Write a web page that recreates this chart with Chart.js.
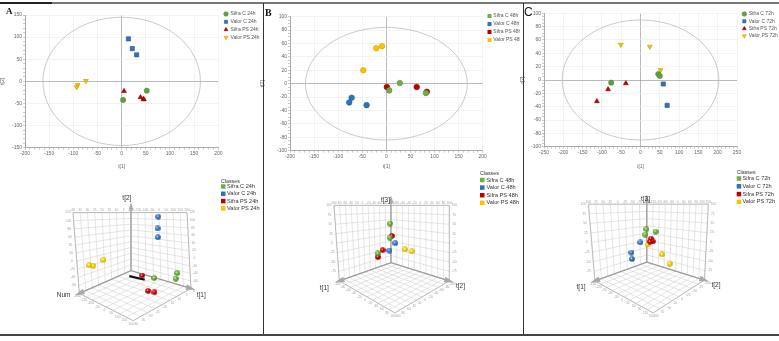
<!DOCTYPE html>
<html>
<head>
<meta charset="utf-8">
<script src="https://cdn.jsdelivr.net/npm/chart.js@4.4.1/dist/chart.umd.min.js"></script>
<style>
body { margin: 0; background: #fff; }
#wrap { position: relative; width: 779px; height: 341px; overflow: hidden; background: #fff; }
canvas { position: absolute; }
.ln { position: absolute; background: #333; z-index: 5; }
.lt { position: absolute; z-index: 6; color: #111; line-height: 1; }
</style>
</head>
<body>
<div id="wrap">
  <canvas id="a2" width="260" height="170" style="left:0;top:0"></canvas>
  <canvas id="b2" width="260" height="170" style="left:260px;top:0"></canvas>
  <canvas id="c2" width="259" height="170" style="left:520px;top:0"></canvas>
  <canvas id="a3" width="262" height="167" style="left:0;top:170px"></canvas>
  <canvas id="b3" width="260" height="167" style="left:260px;top:170px"></canvas>
  <canvas id="c3" width="259" height="167" style="left:520px;top:170px"></canvas>

  <div class="ln" style="left:0;top:2px;width:779px;height:1.5px;background:#777"></div>
  <div class="ln" style="left:0;top:2px;width:52px;height:2px;background:#222"></div>
  <div class="ln" style="left:262.5px;top:3px;width:1.6px;height:332px"></div>
  <div class="ln" style="left:522.5px;top:3px;width:1.6px;height:332px"></div>
  <div class="ln" style="left:0;top:334px;width:779px;height:2px;background:#444"></div>

  <div class="lt" style="left:6px;top:6px;font:bold 9px 'Liberation Serif',serif">A</div>
  <div class="lt" style="left:265px;top:7px;font:bold 10px 'Liberation Serif',serif">B</div>
  <div class="lt" style="left:524px;top:5px;font:12px 'Liberation Sans',sans-serif">C</div>
</div>

<script>
// ---- score plots (t[1], t[2]) ----
const t1_sifraC24 = [52, 3];
const t2_sifraC24 = [-21, -42];
const t1_valorC24 = [14, 22, 31];
const t2_valorC24 = [96, 74, 60];
const t1_sifraPS24 = [5, 39, 45, 46];
const t2_sifraPS24 = [-22, -36, -40, -41];
const t1_valorPS24 = [-74, -91, -93];
const t2_valorPS24 = [1, -8, -13];

const t1_sifraC48 = [28, 6, 82];
const t2_sifraC48 = [1, -10, -14];
const t1_valorC48 = [-72, -77, -41];
const t2_valorC48 = [-21, -28, -32];
const t1_sifraPS48 = [1, 63, 84];
const t2_sifraPS48 = [-5, -5, -12];
const t1_valorPS48 = [-21, -9, -48];
const t2_valorPS48 = [53, 56, 20];

const t1_sifraC72 = [-76, 46, 50];
const t2_sifraC72 = [-4, 9, 6];
const t1_valorC72 = [59, 69];
const t2_valorC72 = [-6, -38];
const t1_sifraPS72 = [-38, -84, -113];
const t2_sifraPS72 = [-5, -14, -32];
const t1_valorPS72 = [-51, 24, 52];
const t2_valorPS72 = [53, 50, 15];

// hotelling ellipse half axes (t1, t2)
const ellA = [163, 145];
const ellB = [168, 84];
const ellC = [203, 90];

// ---- 3D scores ----
// A: [Num, t1, t2]
const sifraC24_3d = [[0.8, 120, -46], [2, 120, -59], [12, 70, -46]];
const valorC24_3d = [[2, 14, 108], [3.6, 22, 75], [4.5, 31, 51]];
const sifraPS24_3d = [[12, -14, -49], [14.8, 52, -76], [14, 88, -76]];
const valorPS24_3d = [[33.4, -74, 9], [39.2, -91, -1], [40, -112, -1]];
const stick24_3d = [[6.1, -158, -80], [4.8, -65, -80]];
// B: [t1, t2, t3]
const sifraC48_3d = [[-40, -46, 47], [-40, -48, 6], [0, -53, -33]];
const valorC48_3d = [[-60, -48, -14], [-40, -50, -32]];
const sifraPS48_3d = [[-50, -50, 9], [-10, -45, -24], [0, -53, -43]];
const valorPS48_3d = [[-70, -24, -30], [-70, -1, -31]];
// C: [t1, t2, t3]
const sifraC72_3d = [[-40, -69, 28], [-40, -75, 12], [-60, -51, 20]];
const valorC72_3d = [[-20, -72, -7], [10, -78, -30], [10, -76, -47]];
const sifraPS72_3d = [[-50, -60, 0], [-50, -51, -7], [-46, -60, -8]];
const valorPS72_3d = [[-40, -63, -15], [-60, -18, -42], [-60, 22, -62]];

const tickFont = { size: 5, family: "'Liberation Sans', sans-serif" };

// ---------- plugins ----------
const ellipsePlugin = {
  id: 'ellipse',
  beforeDatasetsDraw(chart, args, o) {
    if (!o.r) return;
    const { x, y } = chart.scales;
    const ctx = chart.ctx;
    const cx = x.getPixelForValue(0), cy = y.getPixelForValue(0);
    const rx = Math.abs(x.getPixelForValue(o.r[0]) - cx);
    const ry = Math.abs(y.getPixelForValue(o.r[1]) - cy);
    ctx.save();
    ctx.strokeStyle = '#bdbdbd';
    ctx.lineWidth = 0.8;
    ctx.beginPath();
    ctx.ellipse(cx, cy, rx, ry, 0, 0, Math.PI * 2);
    ctx.stroke();
    ctx.restore();
  }
};

const sideLegend = {
  id: 'sideLegend',
  afterDraw(chart, args, o) {
    if (o.x === undefined) return;
    const ctx = chart.ctx;
    ctx.save();
    ctx.textBaseline = 'middle';
    if (o.title) {
      ctx.font = o.titleFont;
      ctx.fillStyle = o.color;
      ctx.fillText(o.title, o.x, o.titleY);
    }
    let i = 0;
    chart.data.datasets.forEach(ds => {
      if (ds.hideInLegend) return;
      const yy = o.y + i * o.gap;
      i++;
      if (o.square) {
        ctx.fillStyle = ds.legendColor || ds.backgroundColor;
        ctx.fillRect(o.x, yy - o.size / 2, o.size, o.size);
      } else {
        ctx.fillStyle = ds.backgroundColor;
        ctx.strokeStyle = ds.borderColor;
        ctx.lineWidth = 0.5;
        Chart.helpers.drawPoint(ctx, { pointStyle: ds.pointStyle, rotation: ds.pointRotation || 0, radius: o.size, borderWidth: 0.5 }, o.x, yy);
      }
      ctx.font = o.font;
      ctx.fillStyle = o.color;
      ctx.fillText(ds.label, o.tx, yy);
    });
    ctx.restore();
  }
};

function gridColor(major) {
  return c => {
    const v = c.tick ? c.tick.value : 1;
    if (v === 0) return '#8c8c8c';
    return Math.abs(v % major) < 1e-6 ? '#ebebeb' : 'rgba(0,0,0,0)';
  };
}

function axis(min, max, major, minor, title, fit) {
  return {
    type: 'linear', min: min, max: max,
    ticks: {
      stepSize: minor, autoSkip: false, maxRotation: 0, padding: 1,
      font: tickFont, color: '#666',
      callback: v => (Math.abs(v % major) < 1e-6 ? v : '')
    },
    grid: { color: gridColor(major), tickColor: '#aaa', tickLength: 2, lineWidth: 0.6 },
    border: { color: '#999', width: 0.8 },
    title: { display: true, text: title, font: tickFont, color: '#666', padding: 0 },
    afterFit: fit
  };
}

function scoreChart(id, sets, o) {
  return new Chart(document.getElementById(id), {
    type: 'scatter',
    data: {
      datasets: sets.map(s => ({
        label: s.label,
        data: s.t1.map((v, i) => ({ x: v, y: s.t2[i] })),
        pointStyle: s.shape,
        pointRotation: s.rot || 0,
        pointRadius: s.r,
        backgroundColor: s.color,
        borderColor: s.edge,
        borderWidth: 0.6
      }))
    },
    options: {
      responsive: false,
      animation: false,
      events: [],
      layout: { padding: { top: o.top, right: o.right, left: 0, bottom: 0 } },
      plugins: {
        legend: { display: false },
        tooltip: { enabled: false },
        ellipse: { r: o.ell },
        sideLegend: o.legend
      },
      scales: {
        x: axis(o.x[0], o.x[1], o.x[2], o.x[3], 't[1]', s => { s.height = o.xh; }),
        y: axis(o.y[0], o.y[1], o.y[2], o.y[3], 't[2]', s => { s.width = o.yw; })
      }
    },
    plugins: [ellipsePlugin, sideLegend]
  });
}

// ---------- 3D helpers ----------
function bil(a, b, c, d, u, v) {
  return a * (1 - u) * (1 - v) + b * u * (1 - v) + c * (1 - u) * v + d * u * v;
}
function place(g, u, v, w) {
  const fx = bil(g.O[0], g.L[0], g.R[0], g.F[0], u, v);
  const fy = bil(g.O[1], g.L[1], g.R[1], g.F[1], u, v);
  const tx = bil(g.tx[0], g.tx[1], g.tx[2], g.tx[3], u, v);
  return [fx + w * (tx - fx), fy + w * (g.top - fy)];
}
function project(g, p) {
  const u = (p[0] - g.ra[0]) / (g.ra[1] - g.ra[0]);
  const v = (p[1] - g.rb[0]) / (g.rb[1] - g.rb[0]);
  const w = (p[2] - g.rc[0]) / (g.rc[1] - g.rc[0]);
  const q = place(g, u, v, w);
  return { x: q[0], y: q[1] };
}
function sphere(col, dark, d) {
  const c = document.createElement('canvas');
  c.width = c.height = d;
  const g = c.getContext('2d');
  const gr = g.createRadialGradient(d * 0.36, d * 0.34, 0.2, d / 2, d / 2, d / 2);
  gr.addColorStop(0, '#ffffff');
  gr.addColorStop(0.3, col);
  gr.addColorStop(1, dark);
  g.fillStyle = gr;
  g.beginPath();
  g.arc(d / 2, d / 2, d / 2 - 0.2, 0, Math.PI * 2);
  g.fill();
  return c;
}

const boxPlugin = {
  id: 'box3d',
  beforeDatasetsDraw(chart, args, o) {
    const g = o.geo;
    if (!g) return;
    const sx = chart.scales.x, sy = chart.scales.y, ctx = chart.ctx;
    const P = (u, v, w) => {
      const q = place(g, u, v, w);
      return [sx.getPixelForValue(q[0]), sy.getPixelForValue(q[1])];
    };
    const seg = (a, b) => {
      const p = P(a[0], a[1], a[2]), q = P(b[0], b[1], b[2]);
      ctx.moveTo(p[0], p[1]);
      ctx.lineTo(q[0], q[1]);
    };
    const [nu, nv, nw] = g.n;
    ctx.save();
    ctx.lineWidth = 0.55;
    ctx.strokeStyle = '#cfcfcf';
    ctx.beginPath();
    for (let i = 0; i <= nu; i++) { seg([i / nu, 0, 0], [i / nu, 0, 1]); seg([i / nu, 0, 0], [i / nu, 1, 0]); }
    for (let j = 0; j <= nv; j++) { seg([0, j / nv, 0], [0, j / nv, 1]); seg([0, j / nv, 0], [1, j / nv, 0]); }
    for (let k = 0; k <= nw; k++) { seg([0, 0, k / nw], [1, 0, k / nw]); seg([0, 0, k / nw], [0, 1, k / nw]); }
    ctx.stroke();

    ctx.strokeStyle = '#a8a8a8';
    ctx.lineWidth = 0.7;
    ctx.beginPath();
    seg([1, 0, 0], [1, 0, 1]); seg([1, 0, 1], [0, 0, 1]); seg([0, 0, 1], [0, 1, 1]);
    seg([0, 1, 1], [0, 1, 0]); seg([1, 0, 0], [1, 1, 0]); seg([0, 1, 0], [1, 1, 0]);
    ctx.stroke();

    // axes with arrow heads
    const O = P(0, 0, 0), L = P(1, 0, 0), R = P(0, 1, 0), T = P(0, 0, 1);
    const head = (from, to, ext, len, hw) => {
      const dx = to[0] - from[0], dy = to[1] - from[1];
      const n = Math.hypot(dx, dy), ux = dx / n, uy = dy / n;
      const tip = [to[0] + ux * ext, to[1] + uy * ext];
      const bx = tip[0] - ux * len, by = tip[1] - uy * len;
      ctx.beginPath();
      ctx.moveTo(tip[0], tip[1]);
      ctx.lineTo(bx - uy * hw, by + ux * hw);
      ctx.lineTo(bx + uy * hw, by - ux * hw);
      ctx.closePath();
      ctx.fill();
    };
    ctx.strokeStyle = '#9d9d9d';
    ctx.fillStyle = '#a9a9a9';
    ctx.lineWidth = 1.3;
    ctx.beginPath();
    ctx.moveTo(L[0], L[1]); ctx.lineTo(O[0], O[1]); ctx.lineTo(R[0], R[1]);
    ctx.moveTo(O[0], O[1]); ctx.lineTo(T[0], T[1] - 6);
    ctx.stroke();
    head(O, [T[0], T[1] - 6], 4, 7, 2.2);
    head(O, L, 5, 10, 2.8);
    head(O, R, 5, 10, 2.8);

    // tiny tick labels
    ctx.fillStyle = '#a0a0a0';
    ctx.font = "3.2px 'Liberation Sans', sans-serif";
    ctx.textAlign = 'center';
    ctx.textBaseline = 'middle';
    const val = (r, t) => Math.round(r[0] + t * (r[1] - r[0]));
    for (let i = 0; i <= nu; i++) {
      let p = P(i / nu, 0, 1); ctx.fillText(val(g.ra, i / nu), p[0], p[1] - 2);
      p = P(i / nu, 1, 0); ctx.fillText(val(g.ra, i / nu), p[0] + 3, p[1] + 3);
    }
    for (let j = 0; j <= nv; j++) {
      let p = P(0, j / nv, 1); ctx.fillText(val(g.rb, j / nv), p[0], p[1] - 2);
      p = P(1, j / nv, 0); ctx.fillText(val(g.rb, j / nv), p[0] - 2, p[1] + 3);
    }
    for (let k = 1; k <= nw; k++) {
      let p = P(1, 0, k / nw); ctx.fillText(val(g.rc, k / nw), p[0] - 5, p[1]);
      p = P(0, 1, k / nw); ctx.fillText(val(g.rc, k / nw), p[0] + 5, p[1]);
    }

    // axis names
    ctx.fillStyle = '#333';
    ctx.font = "6.5px 'Liberation Sans', sans-serif";
    g.names.forEach((nm, i) => {
      ctx.fillText(nm, sx.getPixelForValue(g.namePos[i][0]), sy.getPixelForValue(g.namePos[i][1]));
    });
    ctx.restore();
  }
};

function sceneChart(id, g, sets, legend) {
  const cv = document.getElementById(id);
  const datasets = sets.map(s => s.stick ? {
    label: '', hideInLegend: true,
    data: s.pts.map(p => project(g, p)),
    showLine: true, borderColor: '#111', borderWidth: 2.2, pointRadius: 0
  } : {
    label: s.label,
    data: s.pts.map(p => project(g, p)),
    pointStyle: sphere(s.color, s.dark, 6),
    pointRadius: 3,
    legendColor: s.legend
  });
  return new Chart(cv, {
    type: 'scatter',
    data: { datasets: datasets },
    options: {
      responsive: false,
      animation: false,
      events: [],
      layout: { padding: 0 },
      plugins: {
        legend: { display: false },
        tooltip: { enabled: false },
        box3d: { geo: g },
        sideLegend: legend
      },
      scales: {
        x: { type: 'linear', display: false, min: 0, max: cv.width },
        y: { type: 'linear', display: false, min: 0, max: cv.height, reverse: true }
      }
    },
    plugins: [boxPlugin, sideLegend]
  });
}

// ---------- top row ----------
const legFont = "5px 'Liberation Sans', sans-serif";

scoreChart('a2', [
  { label: 'Sifra C 24h', t1: t1_sifraC24, t2: t2_sifraC24, shape: 'circle', r: 2.6, color: '#62a03f', edge: '#4e8a30' },
  { label: 'Valor C 24h', t1: t1_valorC24, t2: t2_valorC24, shape: 'rect', r: 3, color: '#3670b5', edge: '#24558f' },
  { label: 'Sifra PS 24h', t1: t1_sifraPS24, t2: t2_sifraPS24, shape: 'triangle', r: 2.8, color: '#c00000', edge: '#900000' },
  { label: 'Valor PS 24h', t1: t1_valorPS24, t2: t2_valorPS24, shape: 'triangle', rot: 180, r: 2.8, color: '#f5c200', edge: '#c89b00' }
], {
  top: 15, right: 41.7, xh: 22.3, yw: 25,
  x: [-200, 200, 50, 10], y: [-150, 150, 50, 10], ell: ellA,
  legend: { x: 226, tx: 230.5, y: 14, gap: 7.8, size: 2.3, font: legFont, color: '#555' }
});

scoreChart('b2', [
  { label: 'Sifra C 48h', t1: t1_sifraC48, t2: t2_sifraC48, shape: 'circle', r: 2.8, color: '#70ad47', edge: '#5a9438' },
  { label: 'Valor C 48h', t1: t1_valorC48, t2: t2_valorC48, shape: 'circle', r: 2.8, color: '#2e75b6', edge: '#245e94' },
  { label: 'Sifra PS 48h', t1: t1_sifraPS48, t2: t2_sifraPS48, shape: 'circle', r: 2.8, color: '#c00000', edge: '#950000' },
  { label: 'Valor PS 48h', t1: t1_valorPS48, t2: t2_valorPS48, shape: 'circle', r: 2.8, color: '#ffc000', edge: '#d9a300' }
], {
  top: 16.7, right: 37.3, xh: 19.3, yw: 30,
  x: [-200, 200, 50, 10], y: [-100, 100, 20, 5], ell: ellB,
  legend: { x: 227.5, tx: 233.3, y: 16, gap: 8, size: 4, square: true, font: legFont, color: '#555' }
});

scoreChart('c2', [
  { label: 'Sifra C 72h', t1: t1_sifraC72, t2: t2_sifraC72, shape: 'circle', r: 2.6, color: '#62a03f', edge: '#4e8a30' },
  { label: 'Valor C 72h', t1: t1_valorC72, t2: t2_valorC72, shape: 'rect', r: 3, color: '#3670b5', edge: '#24558f' },
  { label: 'Sifra PS 72h', t1: t1_sifraPS72, t2: t2_sifraPS72, shape: 'triangle', r: 2.8, color: '#c00000', edge: '#900000' },
  { label: 'Valor PS 72h', t1: t1_valorPS72, t2: t2_valorPS72, shape: 'triangle', rot: 180, r: 2.8, color: '#f5c200', edge: '#c89b00' }
], {
  top: 13.3, right: 42, xh: 23.3, yw: 24,
  x: [-250, 250, 50, 10], y: [-100, 100, 20, 5], ell: ellC,
  legend: { x: 224.3, tx: 228.7, y: 14, gap: 7.3, size: 2.3, font: legFont, color: '#555' }
});

// ---------- bottom row ----------
const geoA = { O: [131, 101.7], L: [77.3, 126], R: [193.3, 120.7], F: [133.3, 155], top: 40,
  tx: [131, 70.7, 189.3, 131.7], ra: [0, 40], rb: [-200, 200], rc: [-80, 120], n: [8, 8, 10],
  names: ['Num', 't[1]', 't[2]'], namePos: [[61, 127.7], [204, 127.7], [126.7, 25]] };
const geoB = { O: [131, 93.3], L: [77.3, 112.7], R: [191.7, 112.7], F: [135, 146.7], top: 32.3,
  tx: [131, 71.7, 191.7, 133.3], ra: [-100, 100], rb: [-100, 100], rc: [-100, 100], n: [10, 10, 8],
  names: ['t[1]', 't[2]', 't[3]'], namePos: [[61.7, 120], [203.3, 118.3], [125.3, 26.7]] };
const geoC = { O: [126.7, 92.7], L: [72.7, 112.7], R: [186.7, 111.7], F: [133.3, 146.7], top: 31,
  tx: [126.7, 66, 190.7, 133.3], ra: [-100, 100], rb: [-150, 150], rc: [-100, 100], n: [8, 10, 8],
  names: ['t[1]', 't[2]', 't[3]'], namePos: [[58.3, 119.3], [198.7, 117.3], [125.3, 26]] };

const cls = { titleFont: "5.3px 'Liberation Sans', sans-serif", font: "5.6px 'Liberation Sans', sans-serif", color: '#333', square: true, size: 4.5, title: 'Classes' };
const green3 = { color: '#7cc444', dark: '#3d7a1c', legend: '#70ad47' };
const blue3 = { color: '#3f88d8', dark: '#1d4c8a', legend: '#2e75b6' };
const red3 = { color: '#e80000', dark: '#8a0000', legend: '#c00000' };
const yellow3 = { color: '#ffe600', dark: '#c49a00', legend: '#ffc000' };

sceneChart('a3', geoA, [
  { stick: true, pts: stick24_3d },
  Object.assign({ label: 'Sifra C 24h', pts: sifraC24_3d }, green3),
  Object.assign({ label: 'Valor C 24h', pts: valorC24_3d }, blue3),
  Object.assign({ label: 'Sifra PS 24h', pts: sifraPS24_3d }, red3),
  Object.assign({ label: 'Valor PS 24h', pts: valorPS24_3d }, yellow3)
], Object.assign({ x: 221, tx: 227, titleY: 11.7, y: 16.5, gap: 7.3 }, cls));

sceneChart('b3', geoB, [
  Object.assign({ label: 'Sifra C 48h', pts: sifraC48_3d }, green3),
  Object.assign({ label: 'Valor C 48h', pts: valorC48_3d }, blue3),
  Object.assign({ label: 'Sifra PS 48h', pts: sifraPS48_3d }, red3),
  Object.assign({ label: 'Valor PS 48h', pts: valorPS48_3d }, yellow3)
], Object.assign({ x: 220, tx: 226.5, titleY: 3.5, y: 10, gap: 7.6 }, cls));

sceneChart('c3', geoC, [
  Object.assign({ label: 'Sifra C 72h', pts: sifraC72_3d }, green3),
  Object.assign({ label: 'Valor C 72h', pts: valorC72_3d }, blue3),
  Object.assign({ label: 'Sifra PS 72h', pts: sifraPS72_3d }, red3),
  Object.assign({ label: 'Valor PS 72h', pts: valorPS72_3d }, yellow3)
], Object.assign({ x: 216.7, tx: 222.5, titleY: 2.8, y: 8.5, gap: 7.8 }, cls));
</script>
</body>
</html>
